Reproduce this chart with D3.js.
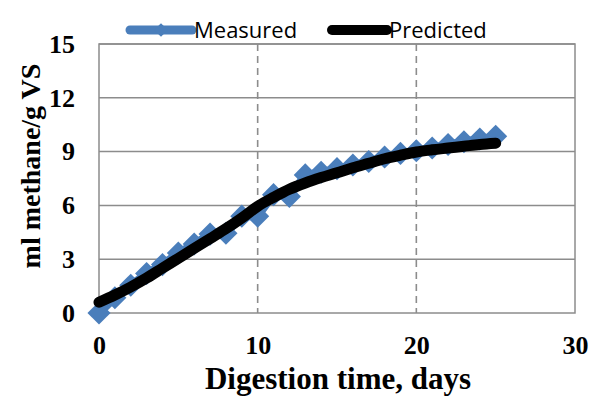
<!DOCTYPE html>
<html>
<head>
<meta charset="utf-8">
<script src="https://cdn.jsdelivr.net/npm/d3@7"></script>
<style>
  html, body { margin: 0; padding: 0; background: #fff; }
  svg { display: block; }
</style>
</head>
<body>
<div id="chart"></div>
<script>
// days of digestion
const days = d3.range(0, 26);
// measured methane yield, ml/g VS
const measured = [0, 0.85, 1.55, 2.2, 2.7, 3.35, 3.85, 4.4, 4.45, 5.4, 5.4, 6.6, 6.5, 7.7, 7.85, 8.05, 8.25, 8.45, 8.7, 8.9, 9.05, 9.2, 9.4, 9.55, 9.7, 9.85];
// model prediction
const predicted = [0.6, 1.0, 1.45, 1.95, 2.5, 3.05, 3.6, 4.15, 4.7, 5.3, 5.95, 6.45, 6.9, 7.25, 7.55, 7.82, 8.1, 8.35, 8.6, 8.8, 8.98, 9.1, 9.2, 9.3, 9.4, 9.47];
const xTicks = [0, 10, 20, 30];
const yTicks = [0, 3, 6, 9, 12, 15];

const width = 595;
const height = 396;
const margin = { top: 44, right: 20, bottom: 83, left: 99 };
const innerW = 575 - margin.left;
const innerH = 313 - margin.top;

const blue = '#4a7ebb';
const grid = '#8c8c8c';
const serif = '"Liberation Serif", "Times New Roman", serif';

const svg = d3.select('#chart').append('svg')
  .attr('width', width)
  .attr('height', height);

const g = svg.append('g')
  .attr('transform', `translate(${margin.left},${margin.top})`);

const x = d3.scaleLinear().domain([0, 30]).range([0, innerW]);
const y = d3.scaleLinear().domain([0, 15]).range([innerH, 0]);

// horizontal gridlines
g.selectAll('line.hgrid')
  .data(yTicks.filter(d => d > 0))
  .join('line')
  .attr('class', 'hgrid')
  .attr('x1', 0).attr('x2', innerW)
  .attr('y1', d => y(d)).attr('y2', d => y(d))
  .attr('stroke', grid)
  .attr('stroke-width', 1.5);

// vertical dashed gridlines
g.selectAll('line.vgrid')
  .data(xTicks.filter(d => d > 0 && d < 30))
  .join('line')
  .attr('class', 'vgrid')
  .attr('x1', d => x(d)).attr('x2', d => x(d))
  .attr('y1', 0).attr('y2', innerH)
  .attr('stroke', grid)
  .attr('stroke-width', 1.6)
  .attr('stroke-dasharray', '7,5');

// plot frame
g.append('rect')
  .attr('width', innerW)
  .attr('height', innerH)
  .attr('fill', 'none')
  .attr('stroke', grid)
  .attr('stroke-width', 1.5);

// axes, only labels shown
const xAxis = g.append('g')
  .attr('transform', `translate(0,${innerH})`)
  .call(d3.axisBottom(x).tickValues(xTicks).tickSize(0).tickPadding(23));
xAxis.select('.domain').remove();
xAxis.selectAll('text')
  .style('font-family', serif)
  .style('font-weight', 'bold')
  .style('font-size', '26px')
  .attr('fill', '#000');

const yAxis = g.append('g')
  .call(d3.axisLeft(y).tickValues(yTicks).tickSize(0).tickPadding(24));
yAxis.select('.domain').remove();
yAxis.selectAll('text')
  .style('font-family', serif)
  .style('font-weight', 'bold')
  .style('font-size', '26px')
  .attr('fill', '#000');

// measured series
const measuredData = days.map((d, i) => ({ day: d, value: measured[i] }));
const predictedData = days.map((d, i) => ({ day: d, value: predicted[i] }));

const line = d3.line()
  .x(d => x(d.day))
  .y(d => y(d.value));

g.append('path')
  .datum(measuredData)
  .attr('d', line)
  .attr('fill', 'none')
  .attr('stroke', blue)
  .attr('stroke-width', 8)
  .attr('stroke-linejoin', 'round')
  .attr('stroke-linecap', 'round');

const diamond = d3.symbol().type(d3.symbolDiamond2).size(340);

g.selectAll('path.marker')
  .data(measuredData)
  .join('path')
  .attr('class', 'marker')
  .attr('d', diamond)
  .attr('transform', d => `translate(${x(d.day)},${y(d.value)})`)
  .attr('fill', blue);

// predicted curve
g.append('path')
  .datum(predictedData)
  .attr('d', line.curve(d3.curveMonotoneX))
  .attr('fill', 'none')
  .attr('stroke', '#000')
  .attr('stroke-width', 11)
  .attr('stroke-linejoin', 'round')
  .attr('stroke-linecap', 'round');

// axis titles
svg.append('text')
  .attr('x', 338)
  .attr('y', 389)
  .attr('text-anchor', 'middle')
  .style('font-family', serif)
  .style('font-weight', 'bold')
  .style('font-size', '31px')
  .text('Digestion time, days');

svg.append('text')
  .attr('transform', 'translate(40,166) rotate(-90)')
  .attr('text-anchor', 'middle')
  .style('font-family', serif)
  .style('font-weight', 'bold')
  .style('font-size', '28px')
  .text('ml methane/g VS');

// legend
const legend = svg.append('g');
const legendItems = [
  { name: 'Measured', x1: 130, x2: 192, color: blue, w: 9, marker: true },
  { name: 'Predicted', x1: 332, x2: 387, color: '#000', w: 10, marker: false }
];
legendItems.forEach(item => {
  legend.append('line')
    .attr('x1', item.x1).attr('x2', item.x2)
    .attr('y1', 30).attr('y2', 30)
    .attr('stroke', item.color)
    .attr('stroke-width', item.w)
    .attr('stroke-linecap', 'round');
  if (item.marker) {
    legend.append('path')
      .attr('d', d3.symbol().type(d3.symbolDiamond2).size(120))
      .attr('transform', `translate(${(item.x1 + item.x2) / 2},30)`)
      .attr('fill', item.color);
  }
  legend.append('text')
    .attr('x', item.x2 + 2)
    .attr('y', 30)
    .attr('dy', '0.35em')
    .style('font-family', '"Open Sans", sans-serif')
    .style('font-size', '22px')
    .text(item.name);
});
</script>
</body>
</html>
